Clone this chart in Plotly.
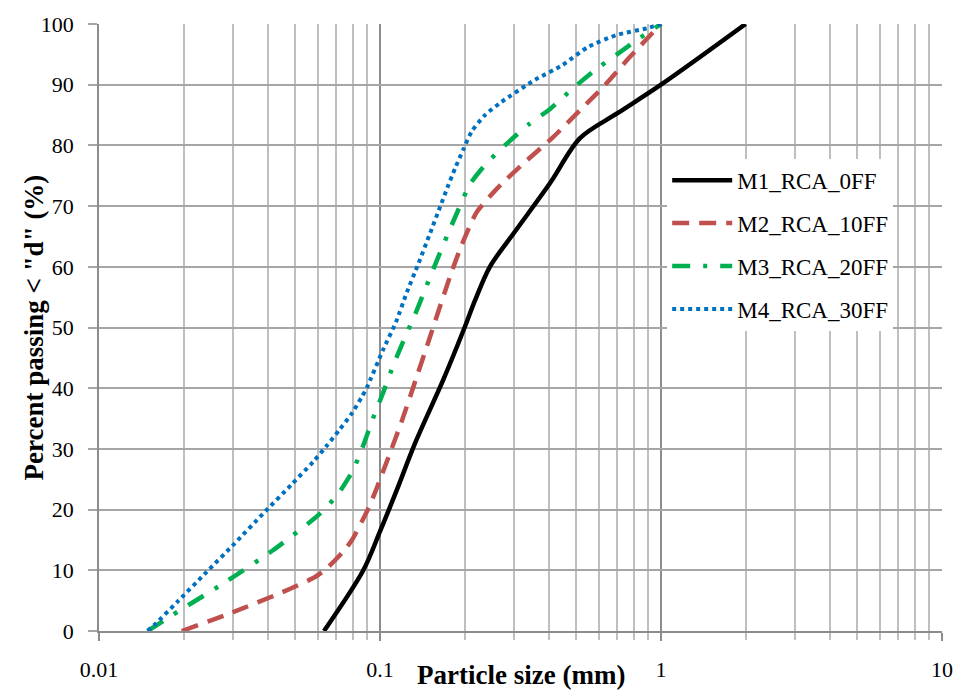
import plotly.graph_objects as go

# ---- data ----
m1_x = [0.0632, 0.0872, 0.1, 0.1147, 0.1332, 0.168, 0.2, 0.218, 0.246, 0.3, 0.403, 0.515, 0.7, 1.0, 2.0]
m1_y = [0, 10, 16.4, 23.2, 30.9, 41.4, 50, 54.5, 60, 65.6, 73.8, 81.2, 85.3, 90, 100]

m2_x = [0.0197, 0.030, 0.045, 0.0587, 0.0646, 0.074, 0.0795, 0.0861, 0.0909, 0.0973, 0.1079, 0.1194, 0.1314, 0.15,
        0.1775, 0.1953, 0.2208, 0.2688, 0.3327, 0.414, 0.515, 0.622, 0.776, 1.0]
m2_y = [0, 3.1, 6.4, 8.9, 10.3, 13.1, 15, 18, 20.2, 23.5, 29, 34.5, 40.2, 48.2,
        58.4, 63.6, 69, 73.5, 77.5, 81.4, 85.8, 89.6, 94.6, 100]

m3_x = [0.0149, 0.0191, 0.0285, 0.0416, 0.060, 0.0705, 0.080, 0.0872, 0.0942, 0.1027, 0.112, 0.1228, 0.1334, 0.1454,
        0.1582, 0.1736, 0.19, 0.209, 0.2409, 0.286, 0.339, 0.403, 0.486, 0.582, 0.697, 0.841, 1.0]
m3_y = [0, 3.2, 8.2, 13.3, 19, 22.4, 26.4, 30.6, 34.9, 39.3, 44, 48.4, 52.2, 56.5,
        60.7, 65.2, 69.4, 73.6, 77.2, 80.5, 83.5, 86, 89.4, 92.4, 95, 97.7, 100]

m4_x = [0.0149, 0.0159, 0.019, 0.024, 0.0305, 0.0383, 0.0486, 0.0579, 0.0643, 0.0716, 0.0795, 0.0865, 0.0898, 0.1025,
        0.114, 0.1244, 0.1369, 0.1498, 0.1637, 0.1739, 0.1849, 0.1978, 0.212, 0.2365, 0.2695, 0.356, 0.445, 0.549,
        0.697, 0.891, 1.0]
m4_y = [0, 1.2, 4.8, 9.6, 14.5, 19.3, 24.2, 27.9, 30.4, 33.1, 35.9, 38.7, 40.1, 46.3,
        50.9, 55.7, 60.5, 65.2, 69.9, 73.1, 76.2, 79.3, 82.3, 85, 87.1, 90.8, 93.2, 96.2,
        98.2, 99.3, 100]

series_names = ["M1_RCA_0FF", "M2_RCA_10FF", "M3_RCA_20FF", "M4_RCA_30FF"]
x_major = [0.01, 0.1, 1, 10]
x_major_text = ["0.01", "0.1", "1", "10"]
x_minor = [m * d for d in (0.01, 0.1, 1) for m in range(2, 10)]

FONT = "Palatino Linotype, Book Antiqua, Palatino, Liberation Serif, serif"

fig = go.Figure()
styles = [
    dict(color="#000000", width=4.5, dash="solid"),
    dict(color="#C0504D", width=4.5, dash="17px,10px"),
    dict(color="#00B050", width=4.5, dash="18px,13px,4px,13px"),
    dict(color="#0070C0", width=4, dash="dot"),
]
smooth = [0.9, 0.6, 0.6, 0.6]
for i, (xs, ys) in enumerate([(m1_x, m1_y), (m2_x, m2_y), (m3_x, m3_y), (m4_x, m4_y)]):
    fig.add_trace(go.Scatter(
        x=xs, y=ys, mode="lines", name=series_names[i],
        line=dict(shape="spline", smoothing=smooth[i], **styles[i]),
        legendgroup=f"g{i}",
    ))

fig.update_layout(
    width=960, height=690,
    margin=dict(l=99, r=18, t=24, b=59),
    paper_bgcolor="white", plot_bgcolor="white",
    font=dict(family=FONT, size=22, color="#000000"),
    showlegend=True,
    legend=dict(
        x=0.674, y=0.778, xanchor="left", yanchor="top",
        bgcolor="white", borderwidth=0,
        font=dict(family=FONT, size=23),
        itemwidth=60, tracegroupgap=10,
    ),
    xaxis=dict(
        type="log", range=[-2, 1], automargin=False,
        tickmode="array", tickvals=x_major, ticktext=x_major_text,
        ticks="outside", ticklen=8, tickcolor="#8c8c8c", tickwidth=1.5,
        showgrid=True, gridcolor="#8c8c8c", gridwidth=1.5,
        showline=True, linecolor="#8c8c8c", linewidth=1.5,
        ticklabelstandoff=10,
        minor=dict(tickmode="array", tickvals=x_minor, ticks="outside", ticklen=7,
                   tickcolor="#bfbfbf", tickwidth=1.5,
                   showgrid=True, gridcolor="#bfbfbf", gridwidth=1.5),
        tickfont=dict(size=22),
        zeroline=False,
    ),
    yaxis=dict(
        range=[0, 100], dtick=10, tick0=0, automargin=False,
        ticks="outside", ticklen=9, tickcolor="#a6a6a6", tickwidth=1.5,
        showgrid=True, gridcolor="#a6a6a6", gridwidth=1.5,
        showline=True, linecolor="#8c8c8c", linewidth=1.5,
        ticklabelstandoff=10,
        tickfont=dict(size=22),
        zeroline=False,
    ),
    annotations=[
        dict(text="<b>Particle size (mm)</b>", xref="paper", yref="paper",
             x=0.5, y=(631 - 675) / 607, xanchor="center", yanchor="middle",
             showarrow=False, font=dict(family=FONT, size=27)),
        dict(text="<b>Percent passing < \"d\" (%)</b>", xref="paper", yref="paper",
             x=(33 - 99) / 843, y=0.5, xanchor="center", yanchor="middle",
             textangle=-90, showarrow=False, font=dict(family=FONT, size=27)),
    ],
)

fig.write_html("out.html")
